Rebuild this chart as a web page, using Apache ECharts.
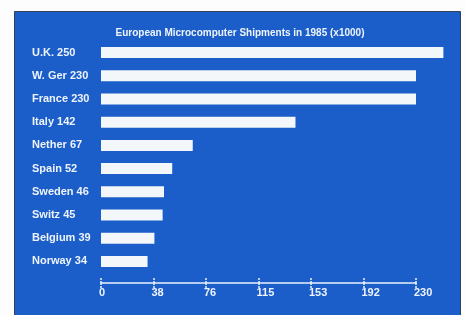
<html>
  <head>
    <meta http-equiv="Content-Type" content="text/html; charset=utf-8" />
    <script src="https://cdn.jsdelivr.net/npm/echarts@6/dist/echarts.min.js"></script>
    <style>
      body { margin: 0; background: #fdfdfd; }
    </style>
  </head>
  <body>
    <div id="main" style="width: 465px;height:315px;"></div>
    <script type="text/javascript">
// shipments in thousands, 1985
var countries = ['U.K.', 'W. Ger', 'France', 'Italy', 'Nether', 'Spain', 'Sweden', 'Switz', 'Belgium', 'Norway'];
var shipments = [250, 230, 230, 142, 67, 52, 46, 45, 39, 34];
var tickLabels = ['0', '38', '76', '115', '153', '192', '230'];
var axisMax = 230;

var font = "'Liberation Sans', Arial, sans-serif";
var textColor = '#eef4fb';

var rowLabels = countries.map(function (c, i) { return c + ' ' + shipments[i]; });
var step = axisMax / (tickLabels.length - 1);

var myChart = echarts.init(document.getElementById('main'));

var option = {
  backgroundColor: '#fdfdfd',
  animation: false,
  graphic: [{
    type: 'rect',
    z: -10,
    shape: { x: 14.5, y: 11.5, width: 446, height: 310 },
    style: { fill: '#1b5dc9', stroke: '#33405a', lineWidth: 1 }
  }],
  title: {
    text: 'European Microcomputer Shipments in 1985 (x1000)',
    left: 235,
    textAlign: 'center',
    top: 23,
    textStyle: { color: textColor, fontFamily: font, fontWeight: 'bold', fontSize: 10 }
  },
  grid: { left: 101, right: 49, top: 41, bottom: 42 },
  xAxis: [{
    type: 'value',
    min: 0,
    max: axisMax,
    interval: step,
    offset: 10,
    splitLine: { show: false },
    axisLine: { show: true, lineStyle: { color: textColor, width: 1.5, type: [3, 1] } },
    axisTick: { show: true, length: 5, lineStyle: { color: textColor, width: 1.5, type: [2, 1] } },
    axisLabel: {
      color: textColor, fontFamily: font, fontWeight: 'bold', fontSize: 11, margin: 4,
      align: 'left', padding: [0, 0, 0, -2],
      formatter: function (v) { return tickLabels[Math.round(v / step)]; }
    }
  }, {
    type: 'value',
    min: 0,
    max: axisMax,
    interval: step,
    position: 'bottom',
    offset: 10,
    splitLine: { show: false },
    axisLine: { show: false },
    axisTick: { show: true, inside: true, length: 6, lineStyle: { color: textColor, width: 1.5, type: [2, 1] } },
    axisLabel: { show: false }
  }],
  yAxis: {
    type: 'category',
    inverse: true,
    data: rowLabels,
    axisLine: { show: false },
    axisTick: { show: false },
    axisLabel: {
      color: textColor, fontFamily: font, fontWeight: 'bold', fontSize: 11,
      align: 'left', margin: 69
    }
  },
  series: [{
    type: 'bar',
    data: shipments,
    barWidth: 11,
    clip: false,
    itemStyle: { color: '#f3f7f9' }
  }]
};

myChart.setOption(option);
    </script>
  </body>
</html>
